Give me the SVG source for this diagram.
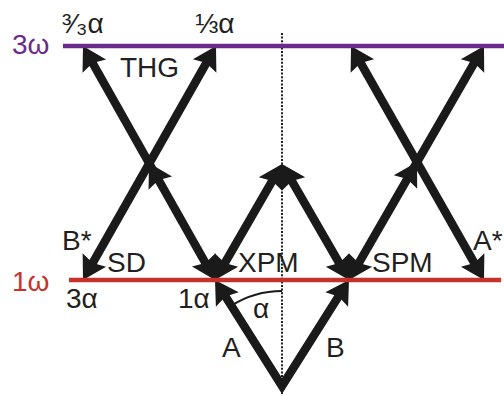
<svg xmlns="http://www.w3.org/2000/svg" xmlns:xlink="http://www.w3.org/1999/xlink" width="504" height="396" viewBox="0 0 504 396">
<style>
.lbl{font-family:"Liberation Sans","DejaVu Sans",Arial,sans-serif;font-size:28px;fill:#231f20}
.beam{stroke:#1a1a1a;stroke-width:8.5;fill:none;stroke-linejoin:miter}
.ah{fill:#1a1a1a}
.dot{stroke:#231f20;stroke-width:2;stroke-dasharray:2 1.6;fill:none}
</style>
<defs>
<path id="ah" d="M0,0 L13.5,23 L0,19.5 L-13.5,23 Z"/>
</defs>
<rect width="504" height="396" fill="#fff"/>
<line class="dot" x1="282" y1="33" x2="282" y2="394"/>
<g id="connectors">
<line class="beam" x1="88.9" y1="56.5" x2="209.1" y2="269.5"/>
<line class="beam" x1="210.1" y1="56.4" x2="88.9" y2="269.6"/>
<line class="beam" x1="221" y1="269.6" x2="276" y2="174.4"/>
<line class="beam" x1="343" y1="269.6" x2="288" y2="174.4"/>
<line class="beam" x1="356.9" y1="56.4" x2="478.1" y2="269.6"/>
<line class="beam" x1="478" y1="56.4" x2="355" y2="269.6"/>
<polyline class="beam" points="221.4,290.1 282,386 342.6,290.1"/>
<g class="ah">
<use xlink:href="#ah" transform="translate(83,46) rotate(-29.43)"/>
<use xlink:href="#ah" transform="translate(216,46) rotate(29.62)"/>
<use xlink:href="#ah" transform="translate(351,46) rotate(-29.62)"/>
<use xlink:href="#ah" transform="translate(484,46) rotate(29.98)"/>
<use xlink:href="#ah" transform="translate(149,163) rotate(-29.43)"/>
<use xlink:href="#ah" transform="translate(417,162) rotate(29.98)"/>
<use xlink:href="#ah" transform="translate(282,164) rotate(30)"/>
<use xlink:href="#ah" transform="translate(282,164) rotate(-30)"/>
<use xlink:href="#ah" transform="translate(215,280) rotate(150.57)"/>
<use xlink:href="#ah" transform="translate(215,280) rotate(-150)"/>
<use xlink:href="#ah" transform="translate(215,280) rotate(-32.3)"/>
<use xlink:href="#ah" transform="translate(349,280) rotate(150)"/>
<use xlink:href="#ah" transform="translate(349,280) rotate(-150)"/>
<use xlink:href="#ah" transform="translate(349,280) rotate(32.3)"/>
<use xlink:href="#ah" transform="translate(83,280) rotate(-150.38)"/>
<use xlink:href="#ah" transform="translate(484,280) rotate(150.38)"/>
</g>
<path d="M231.3,305.7 A95,95 0 0 1 282,291" fill="none" stroke="#1a1a1a" stroke-width="2"/>
</g>
<g id="level3w">
<line x1="63" y1="46" x2="504" y2="46" stroke="#6a2b8c" stroke-width="4.5"/>
<text class="lbl" x="12" y="54" style="fill:#6a2b8c">3ω</text>
</g>
<g id="level1w">
<line x1="69" y1="280" x2="501" y2="280" stroke="#c6312a" stroke-width="4.5"/>
<text class="lbl" x="12" y="291" style="fill:#c6312a">1ω</text>
</g>
<g id="labels">
<text class="lbl" x="62" y="33">³⁄₃α</text>
<text class="lbl" x="195" y="33">⅓α</text>
<text class="lbl" x="120" y="77">THG</text>
<text class="lbl" x="62" y="250">B*</text>
<text class="lbl" x="107" y="272">SD</text>
<text class="lbl" x="66" y="308">3α</text>
<text class="lbl" x="178" y="308">1α</text>
<text class="lbl" x="238" y="272">XPM</text>
<text class="lbl" x="372" y="272">SPM</text>
<text class="lbl" x="473" y="250">A*</text>
<text class="lbl" x="222" y="357">A</text>
<text class="lbl" x="253" y="318">α</text>
<text class="lbl" x="326" y="357">B</text>
</g>
</svg>
